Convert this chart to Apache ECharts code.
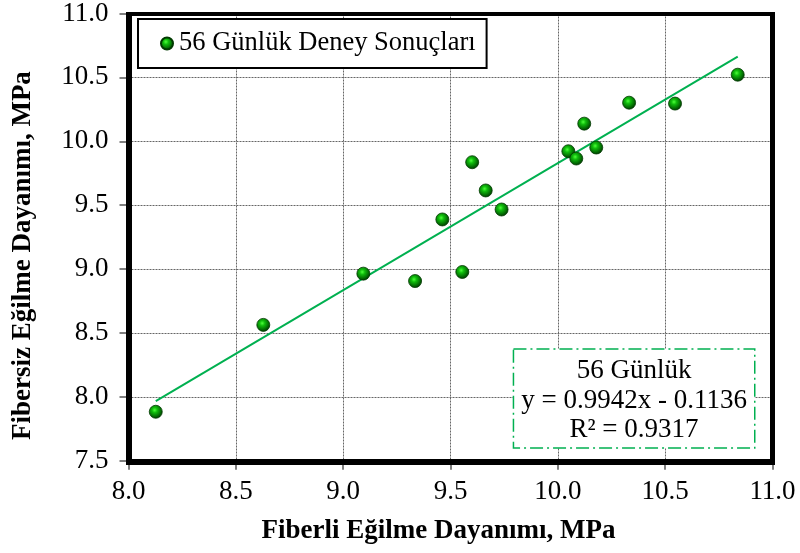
<!DOCTYPE html>
<html>
<head>
<meta charset="utf-8">
<script src="https://cdn.jsdelivr.net/npm/echarts@6/dist/echarts.min.js"></script>
<style>html,body{margin:0;padding:0;background:#fff;}#c{width:800px;height:553px;}</style>
</head>
<body>
<div id="c"></div>
<script>
var seriesName = '56 Günlük Deney Sonuçları';
var xValues = [8.127, 8.628, 9.094, 9.335, 9.462, 9.555, 9.601, 9.664, 9.738, 10.049, 10.086, 10.123, 10.179, 10.332, 10.546, 10.838];
var yValues = [7.883, 8.563, 8.964, 8.906, 9.388, 8.977, 9.836, 9.615, 9.466, 9.922, 9.865, 10.138, 9.951, 10.302, 10.295, 10.521];
var trendX = [8.127, 10.838];
var trendY = [7.966, 10.662];
var xTicks = ['8.0', '8.5', '9.0', '9.5', '10.0', '10.5', '11.0'];
var yTicks = ['7.5', '8.0', '8.5', '9.0', '9.5', '10.0', '10.5', '11.0'];
var eqLines = ['56 Günlük', 'y = 0.9942x - 0.1136', 'R² = 0.9317'];
var xTitle = 'Fiberli Eğilme Dayanımı, MPa';
var yTitle = 'Fibersiz Eğilme Dayanımı, MPa';

var FONT = "'Liberation Serif', 'Times New Roman', serif";
var pts = xValues.map(function (x, i) { return [x, yValues[i]]; });
var trend = trendX.map(function (x, i) { return [x, trendY[i]]; });

var ballColor = {
  type: 'radial', x: 0.42, y: 0.38, r: 0.62,
  colorStops: [
    { offset: 0, color: '#4dff3a' },
    { offset: 0.3, color: '#10bc0c' },
    { offset: 0.72, color: '#037003' },
    { offset: 1, color: '#013a01' }
  ]
};

function tickStyle() { return { show: true, length: 9, lineStyle: { color: '#555', width: 1.5 } }; }
function gridLine() { return { show: true, showMinLine: false, showMaxLine: false, lineStyle: { color: '#666', type: [2, 1], width: 1 } }; }

var chart = echarts.init(document.getElementById('c'), null, { renderer: 'canvas' });
chart.setOption({
  animation: false,
  backgroundColor: '#fff',
  grid: { left: 128.5, top: 12.7, width: 644, height: 448, show: false, containLabel: false },
  legend: {
    left: 138, top: 19,
    data: [{ name: seriesName, icon: 'circle' }],
    itemWidth: 12, itemHeight: 12,
    borderColor: '#000', borderWidth: 2,
    padding: [11, 11, 11, 22],
    backgroundColor: '#fff',
    textStyle: { fontFamily: FONT, fontSize: 26.5, color: '#000', padding: [0, 0, 0, 1] }
  },
  xAxis: {
    type: 'value', min: 8.0, max: 11.0, interval: 0.5,
    name: xTitle, nameLocation: 'middle', nameGap: 57,
    nameTextStyle: { fontFamily: FONT, fontSize: 27, fontWeight: 'bold', color: '#000', padding: [0, 24, 0, 0] },
    axisLine: { show: false, onZero: false },
    axisTick: tickStyle(),
    axisLabel: { margin: 18, fontFamily: FONT, fontSize: 27, color: '#000', formatter: function (v) { var i = Math.round((v - 8.0) / 0.5); return xTicks[i]; } },
    splitLine: gridLine()
  },
  yAxis: {
    type: 'value', min: 7.5, max: 11.0, interval: 0.5,
    name: yTitle, nameLocation: 'middle', nameGap: 92, nameRotate: 90,
    nameTextStyle: { fontFamily: FONT, fontSize: 27, fontWeight: 'bold', color: '#000', padding: [0, 37, 0, 0] },
    axisLine: { show: false, onZero: false },
    axisTick: tickStyle(),
    axisLabel: { margin: 20, fontFamily: FONT, fontSize: 27, color: '#000', formatter: function (v) { var i = Math.round((v - 7.5) / 0.5); return yTicks[i]; } },
    splitLine: gridLine()
  },
  series: [
    {
      name: 'trend', type: 'line', data: trend, showSymbol: false, symbol: 'none',
      lineStyle: { color: '#00b050', width: 2 }, z: 3, silent: true
    },
    {
      name: seriesName, type: 'scatter', data: pts, symbol: 'circle', symbolSize: 13,
      itemStyle: { color: ballColor, borderColor: '#013a01', borderWidth: 0.8, opacity: 1 }, z: 4
    }
  ]
});

// plot frame, placed from the axes' own scale (drawn as filled bars)
var p0 = chart.convertToPixel({ gridIndex: 0 }, [8.0, 11.0]);
var p1 = chart.convertToPixel({ gridIndex: 0 }, [11.0, 7.5]);
var L = Math.round(p0[0]), T = Math.round(p0[1]), R = Math.round(p1[0]), B = Math.round(p1[1]);
function bar(x, y, w, hh) {
  return { type: 'rect', zlevel: 1, z: 100, silent: true, shape: { x: x, y: y, width: w, height: hh }, style: { fill: '#000' } };
}
chart.setOption({
  graphic: [
    bar(L - 3, T - 2, R - L + 6, 4),
    bar(L - 3, B - 2, R - L + 6, 6),
    bar(L - 3, T - 2, 6, B - T + 6),
    bar(R - 2, T - 2, 5, B - T + 6),
    {
      type: 'group', left: 512.7, top: 348.3, z: 10,
      children: [
        { type: 'rect', shape: { x: 0, y: 0, width: 241.3, height: 99 },
          style: { fill: '#fff', stroke: '#00b050', lineWidth: 1.5, lineDash: [13, 4, 2, 4] } },
        { type: 'text', x: 120.6, y: 21.7, style: { text: eqLines[0], font: '27px ' + FONT, fill: '#000', align: 'center', verticalAlign: 'middle' } },
        { type: 'text', x: 120.6, y: 51.5, style: { text: eqLines[1], font: '27px ' + FONT, fill: '#000', align: 'center', verticalAlign: 'middle' } },
        { type: 'text', x: 120.6, y: 80.8, style: { text: eqLines[2], font: '27px ' + FONT, fill: '#000', align: 'center', verticalAlign: 'middle' } }
      ]
    }
  ]
});
</script>
</body>
</html>
